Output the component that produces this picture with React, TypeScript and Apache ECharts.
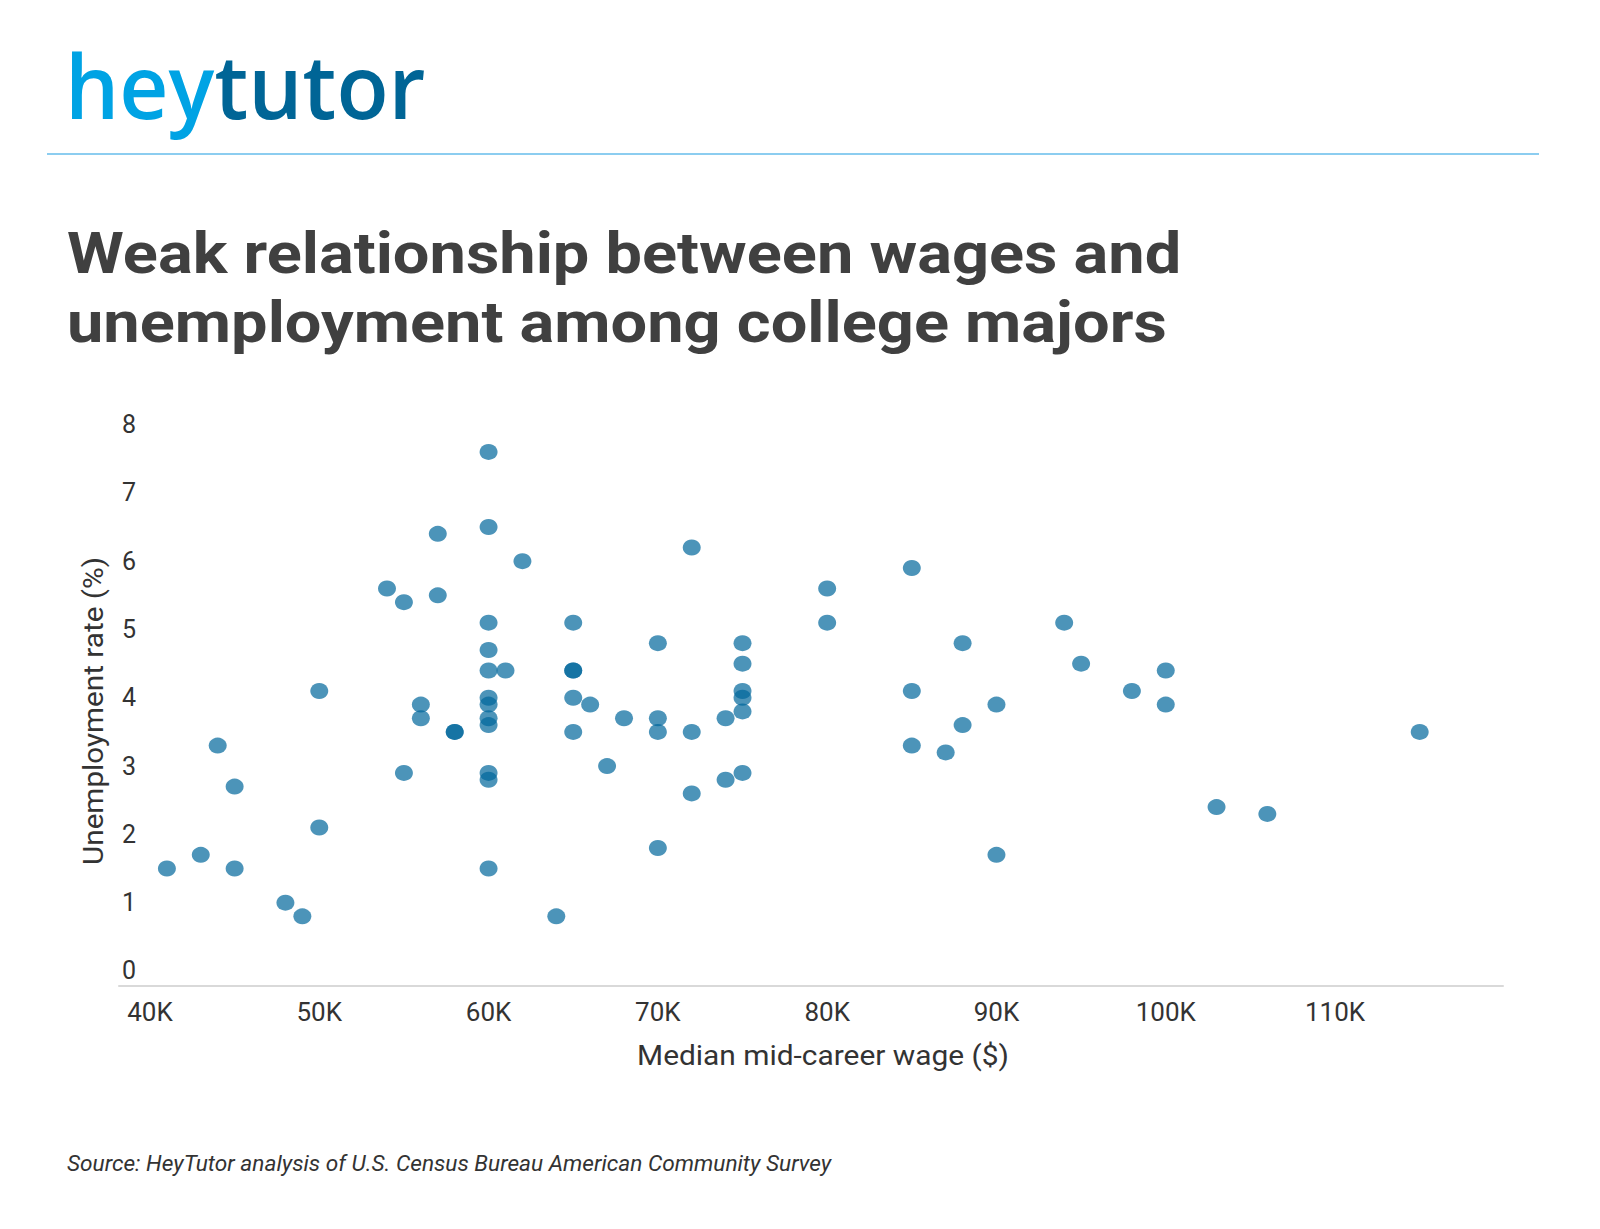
import React, { useEffect, useRef } from "react";
import * as echarts from "echarts";

const wagesK = [
  41, 43, 44, 45, 45, 48, 49, 50, 50, 54, 55, 55, 56, 56, 57, 57, 58, 58,
  60, 60, 60, 60, 60, 60, 60, 60, 60, 60, 60, 60, 61, 62, 64,
  65, 65, 65, 65, 65, 66, 67, 68, 70, 70, 70, 70, 72, 72, 72, 74, 74,
  75, 75, 75, 75, 75, 75, 80, 80, 85, 85, 85, 87, 88, 88, 90, 90,
  94, 95, 98, 100, 100, 103, 106, 115,
];
const unemployment = [
  1.5, 1.7, 3.3, 2.7, 1.5, 1.0, 0.8, 4.1, 2.1, 5.6, 5.4, 2.9, 3.9, 3.7, 6.4, 5.5, 3.5, 3.5,
  7.6, 6.5, 5.1, 4.7, 4.4, 4.0, 3.9, 3.7, 3.6, 2.9, 2.8, 1.5, 4.4, 6.0, 0.8,
  5.1, 4.4, 4.4, 4.0, 3.5, 3.9, 3.0, 3.7, 4.8, 3.7, 3.5, 1.8, 6.2, 3.5, 2.6, 3.7, 2.8,
  4.8, 4.5, 4.1, 4.0, 3.8, 2.9, 5.6, 5.1, 5.9, 4.1, 3.3, 3.2, 4.8, 3.6, 3.9, 1.7,
  5.1, 4.5, 4.1, 4.4, 3.9, 2.4, 2.3, 3.5,
];
const xTicks = [40000, 50000, 60000, 70000, 80000, 90000, 100000, 110000];
const yTicks = [0, 1, 2, 3, 4, 5, 6, 7, 8];

const titleLines = [
  "Weak relationship between wages and",
  "unemployment among college majors",
];
const sourceText = "Source: HeyTutor analysis of U.S. Census Bureau American Community Survey";

export default function App() {
  const ref = useRef<HTMLDivElement>(null);
  useEffect(() => {
    if (!ref.current) return;
    const chart = echarts.init(ref.current, undefined, { renderer: "svg" });
    const data = wagesK.map((w, i) => [w * 1000, unemployment[i]]);
    chart.setOption({
      animation: false,
      backgroundColor: "#ffffff",
      textStyle: { fontFamily: "Roboto" },
      grid: { left: 119, right: 97, top: 424.6, bottom: 243 },
      xAxis: {
        type: "value",
        min: 38170,
        max: 119920,
        splitLine: { show: false },
        axisLine: { show: true, onZero: false, lineStyle: { color: "#d9d9d9", width: 2 } },
        axisTick: { show: false },
        axisLabel: {
          customValues: xTicks,
          formatter: (v: number) => v / 1000 + "K",
          color: "#333333",
          fontSize: 26,
          fontFamily: "Roboto",
          margin: 13,
        },
      },
      yAxis: {
        type: "value",
        min: -0.22,
        max: 8,
        splitLine: { show: false },
        axisLine: { show: false },
        axisTick: { show: false },
        axisLabel: {
          customValues: yTicks,
          inside: true,
          margin: 3,
          color: "#333333",
          fontSize: 25,
          fontFamily: "Roboto",
        },
      },
      graphic: [
        {
          type: "text",
          x: 65,
          y: 41,
          scaleX: 0.972,
          style: {
            text: "{a|hey}{b|tutor}",
            rich: {
              a: { fill: "#00a3e4", fontSize: 88, fontFamily: "Open Sans", fontWeight: 600 },
              b: { fill: "#006596", fontSize: 88, fontFamily: "Open Sans", fontWeight: 600 },
            },
            verticalAlign: "top",
          },
        },
        {
          type: "line",
          shape: { x1: 47, y1: 154, x2: 1539, y2: 154 },
          style: { stroke: "#8ccdf0", lineWidth: 2 },
        },
        {
          type: "text",
          x: 67,
          y: 253,
          scaleX: 1.12,
          style: {
            text: titleLines[0],
            fill: "#404040",
            fontSize: 58,
            fontWeight: 700,
            fontFamily: "Roboto",
            verticalAlign: "middle",
          },
        },
        {
          type: "text",
          x: 67,
          y: 322,
          scaleX: 1.12,
          style: {
            text: titleLines[1],
            fill: "#404040",
            fontSize: 58,
            fontWeight: 700,
            fontFamily: "Roboto",
            verticalAlign: "middle",
          },
        },
        {
          type: "text",
          x: 94,
          y: 711,
          rotation: Math.PI / 2,
          scaleX: 1.1,
          style: {
            text: "Unemployment rate (%)",
            fill: "#333333",
            fontSize: 27,
            fontFamily: "Roboto",
            align: "center",
            verticalAlign: "middle",
          },
        },
        {
          type: "text",
          x: 823,
          y: 1056,
          scaleX: 1.107,
          style: {
            text: "Median mid-career wage ($)",
            fill: "#333333",
            fontSize: 27,
            fontFamily: "Roboto",
            align: "center",
            verticalAlign: "middle",
          },
        },
        {
          type: "text",
          x: 67,
          y: 1163,
          scaleX: 1.03,
          style: {
            text: sourceText,
            fill: "#333333",
            fontSize: 22,
            fontStyle: "italic",
            fontFamily: "Roboto",
            verticalAlign: "middle",
          },
        },
      ],
      series: [
        {
          type: "scatter",
          data,
          symbol: "circle",
          symbolSize: [18, 16],
          itemStyle: { color: "#00669b", opacity: 0.7 },
        },
      ],
    });
    return () => chart.dispose();
  }, []);
  return (
    <div
      ref={ref}
      style={{ position: "fixed", left: 0, top: 0, width: 1600, height: 1229 }}
    />
  );
}
